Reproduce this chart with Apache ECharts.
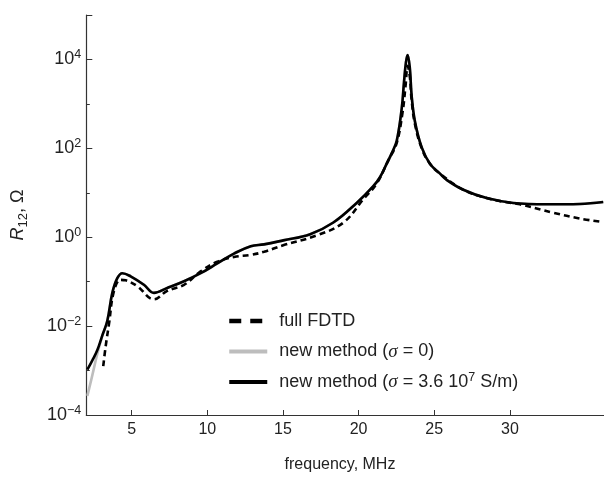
<!DOCTYPE html>
<html><head><meta charset="utf-8">
<script src="https://cdn.jsdelivr.net/npm/echarts@6/dist/echarts.min.js"></script>
<style>html,body{margin:0;padding:0;background:#fff}#c{width:604px;height:478px}</style>
</head><body><div id="c"></div>
<script>
// ---- data (frequency in MHz, R12 in Ohm) ----
const fdtdFreq = [3.12,3.28,3.5,3.83,4.27,4.6,5.37,6.47,7.35,8.46,9.56,10.66,11.76,12.87,13.75,15.02,17.24,19.0,20.3,21.2,21.96,22.5,22.9,23.1,23.24,23.39,23.5,23.72,24.17,24.72,25.38,26.92,28.46,30.22,30.66,32.87,34.63,35.95];
const fdtdR    = [1.26e-3,3.5e-3,1.12e-2,6.2e-2,0.11,0.107,0.079,0.04,0.062,0.085,0.17,0.28,0.36,0.40,0.47,0.66,1.1,2.14,7.1,16.2,53.7,126,631,2510,7240,3980,1260,355,100,44.7,26.9,11.7,7.6,5.75,5.5,3.55,2.63,2.24];

const sigma0Freq = [2.07,2.4,2.73,3.06,3.39,3.72,4.05,4.38,4.93,5.81,6.47,7.35,8.46,9.56,10.66,11.76,12.87,13.75,15.02,16.8,18.33,19.87,20.97,21.41,21.85,22.2,22.52,22.85,23.0,23.13,23.24,23.39,23.5,23.72,24.17,24.72,25.38,25.82,26.92,28.46,30.22,32.43,34.63,36.17];
const sigma0R    = [2.7e-4,7.9e-4,2.4e-3,6.0e-3,1.32e-2,5.6e-2,0.12,0.155,0.132,0.085,0.056,0.072,0.102,0.155,0.257,0.427,0.63,0.69,0.85,1.17,2.14,5.9,14.1,22.4,44.7,79,148,794,3090,8700,12600,6170,1585,407,105,44.7,26.9,19.5,11.7,7.6,5.9,5.5,5.6,6.2];

const sigmaFreq = [2.07,2.4,2.73,3.06,3.39,3.72,4.05,4.38,4.93,5.81,6.47,7.35,8.46,9.56,10.66,11.76,12.87,13.75,15.02,16.8,18.33,19.87,20.97,21.41,21.85,22.2,22.52,22.85,23.0,23.13,23.24,23.39,23.5,23.72,24.17,24.72,25.38,25.82,26.92,28.46,30.22,32.43,34.63,36.17];
const sigmaR    = [1.05e-3,1.7e-3,2.9e-3,6.2e-3,1.32e-2,5.6e-2,0.12,0.155,0.132,0.085,0.056,0.072,0.102,0.155,0.257,0.427,0.63,0.69,0.85,1.17,2.14,5.9,14.1,22.4,44.7,79,148,794,3090,8700,12600,6170,1585,407,105,44.7,26.9,19.5,11.7,7.6,5.9,5.5,5.6,6.2];

const xTickValues = [5,10,15,20,25,30];
const legendNames = ['full FDTD','new method (σ = 0)','new method (σ = 3.6 10^7 S/m)'];
const xName = 'frequency, MHz';

const pairs = (xs, ys) => xs.map((x, i) => [x, ys[i]]);
const FONT = "'Liberation Sans', Arial, Helvetica, sans-serif";
const AX = '#333';

const chart = echarts.init(document.getElementById('c'), null, {renderer: 'canvas'});

function supLabel(v) {
  const e = Math.round(Math.log10(v));
  if (e % 2 !== 0 || e > 4) return '';
  const es = e < 0 ? '\u2212' + (-e) : String(e);
  return '{b|10}{s|' + es + '}';
}

const legendFmt = {};
legendFmt[legendNames[0]] = 'full FDTD';
legendFmt[legendNames[1]] = 'new method ({i|σ} = 0)';
legendFmt[legendNames[2]] = 'new method ({i|σ} = 3.6 10{s|7} S/m)';

const noSym = {opacity: 0, borderWidth: 0};

chart.setOption({
  animation: false,
  backgroundColor: '#fff',
  grid: {left: 86.3, top: 15, width: 517.4, height: 408, containLabel: false},
  xAxis: {
    type: 'value', min: 2, max: 36.2,
    name: xName, nameLocation: 'middle', nameGap: 42,
    nameTextStyle: {fontFamily: FONT, fontSize: 16, color: '#222', padding: [0, 10, 0, 0]},
    axisLine: {show: true, lineStyle: {color: AX, width: 1.2}},
    axisTick: {show: true, inside: true, length: 5, customValues: xTickValues, lineStyle: {color: AX, width: 1}},
    axisLabel: {customValues: xTickValues, fontFamily: FONT, fontSize: 16, color: '#222', margin: 7},
    splitLine: {show: false}
  },
  yAxis: [{
    type: 'log', logBase: 10, min: 1e-4, max: 1e5, interval: 2,
    name: '{i|R}{sub|12}{n|, Ω}', nameLocation: 'middle', nameRotate: 90, nameGap: 56,
    nameTextStyle: {fontFamily: FONT, fontSize: 18, color: '#222',
      rich: {
        i: {fontFamily: FONT, fontStyle: 'italic', fontSize: 18, color: '#222', lineHeight: 24},
        sub: {fontFamily: FONT, fontSize: 13, color: '#222', verticalAlign: 'bottom'},
        n: {fontFamily: FONT, fontSize: 18, color: '#222', lineHeight: 24}
      }},
    axisLine: {show: true, lineStyle: {color: AX, width: 1.2}},
    axisTick: {show: true, inside: true, length: 6, lineStyle: {color: AX, width: 1}},
    axisLabel: {formatter: supLabel, margin: 5, color: '#222',
      rich: {
        b: {fontFamily: FONT, fontSize: 18, color: '#222', lineHeight: 22},
        s: {fontFamily: FONT, fontSize: 12.5, color: '#222', verticalAlign: 'top'}
      }},
    splitLine: {show: false}, minorTick: {show: false}
  }, {
    type: 'log', logBase: 10, min: 1e-4, max: 1e5, interval: 1, position: 'left',
    axisLine: {show: false},
    axisTick: {show: true, inside: true, length: 3.5, lineStyle: {color: AX, width: 1}},
    axisLabel: {show: false}, splitLine: {show: false}
  }],
  legend: {
    orient: 'vertical', left: 227, top: 310, padding: 0,
    itemWidth: 38, itemHeight: 14, itemGap: 8.5,
    itemStyle: noSym,
    data: [
      {name: legendNames[0], itemStyle: noSym, lineStyle: {width: 4.5, type: [12, 9]}},
      {name: legendNames[1], itemStyle: noSym, lineStyle: {width: 4}},
      {name: legendNames[2], itemStyle: noSym, lineStyle: {width: 4.2}}
    ],
    formatter: name => legendFmt[name],
    textStyle: {fontFamily: FONT, fontSize: 18, color: '#222', lineHeight: 22, padding: [0, 0, 0, 7],
      rich: {
        i: {fontFamily: "'Liberation Serif', 'DejaVu Serif', serif", fontStyle: 'italic', fontSize: 19, color: '#222', lineHeight: 22},
        s: {fontFamily: FONT, fontSize: 12.5, color: '#222', verticalAlign: 'top'}
      }}
  },
  series: [
    {name: legendNames[1], type: 'line', data: pairs(sigma0Freq, sigma0R), showSymbol: false, symbol: 'none',
      smooth: 0.4, lineStyle: {color: '#bdbdbd', width: 2.6}, itemStyle: {color: '#bdbdbd'}, z: 2},
    {name: legendNames[2], type: 'line', data: pairs(sigmaFreq, sigmaR), showSymbol: false, symbol: 'none',
      smooth: 0.4, lineStyle: {color: '#000', width: 2.6}, itemStyle: {color: '#000'}, z: 3},
    {name: legendNames[0], type: 'line', data: pairs(fdtdFreq, fdtdR), showSymbol: false, symbol: 'none',
      smooth: 0.4, lineStyle: {color: '#000', width: 2.6, type: [6, 4]}, itemStyle: {color: '#000'}, z: 4}
  ]
});
</script>
</body></html>
